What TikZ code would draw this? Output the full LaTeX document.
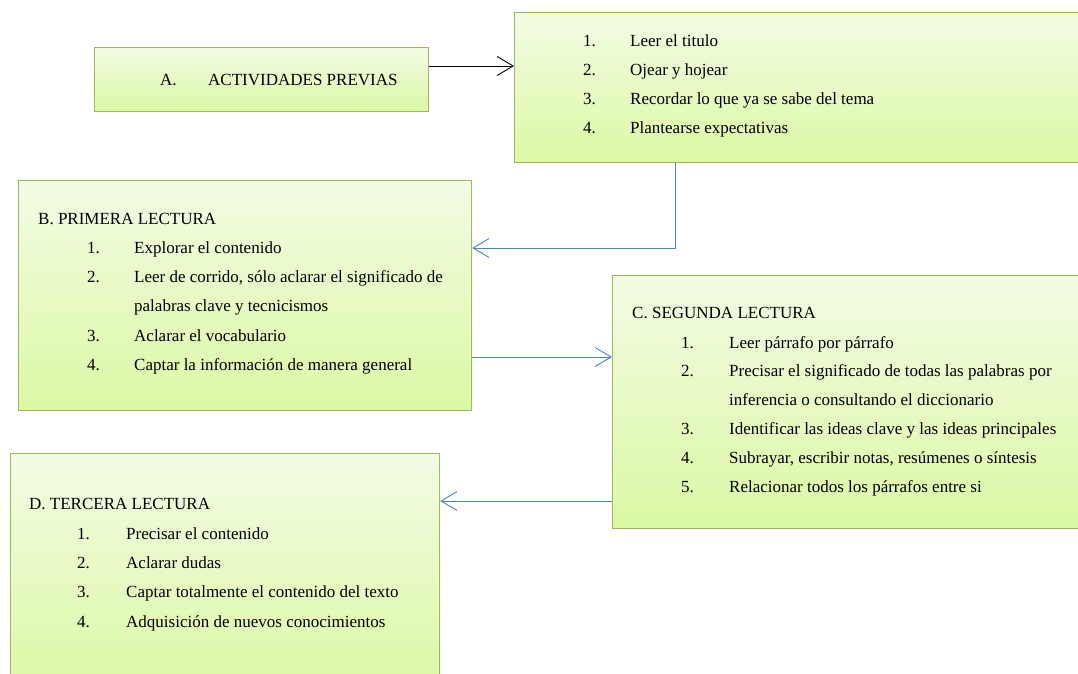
\documentclass[tikz,border=0pt]{standalone}
\usepackage{fontspec}
\setmainfont{Liberation Serif}
\usetikzlibrary{arrows.meta}
\definecolor{verdeborde}{RGB}{155,187,89}
\definecolor{verdearriba}{RGB}{243,251,228}
\definecolor{verdeabajo}{RGB}{219,249,164}
\definecolor{azul}{RGB}{79,129,189}

\begin{document}
\begin{tikzpicture}[x=1pt, y=-1pt,
	caja/.style={draw=verdeborde, line width=1.2pt, top color=verdearriba, bottom color=verdeabajo, anchor=north west, inner sep=0pt},
	txt/.style={anchor=base west, inner sep=0pt, font=\fontsize{17}{20}\selectfont},
	flecha/.style={draw=azul, line width=0.9pt, -{Straight Barb[length=16pt, width=19pt]}}]
					\useasboundingbox (0,0) rectangle (1078,673);
					\clip (0,0) rectangle (1078,673);
					% cajas
					\node[caja, minimum width=334pt, minimum height=64pt] (boxA) at (94,47) {};
					\node[caja, minimum width=580pt, minimum height=150pt] (listaA) at (514,12) {};
					\node[caja, minimum width=453pt, minimum height=230pt] (boxB) at (18,180) {};
					\node[caja, minimum width=480pt, minimum height=253pt] (boxC) at (612,275) {};
					\node[caja, minimum width=429pt, minimum height=240pt] (boxD) at (10,453) {};
					% A
					\node[txt] (tA0) at (160,85) {A.};
					\node[txt] (tA) at (208,85) {ACTIVIDADES PREVIAS};
					\node[txt] (nA1) at (583,46) {1.};
					\node[txt] (tA1) at (630,46) {Leer el titulo};
					\node[txt] (nA2) at (583,75) {2.};
					\node[txt] (tA2) at (630,75) {Ojear y hojear};
					\node[txt] (nA3) at (583,104) {3.};
					\node[txt] (tA3) at (630,104) {Recordar lo que ya se sabe del tema};
					\node[txt] (nA4) at (583,133) {4.};
					\node[txt] (tA4) at (630,133) {Plantearse expectativas};
					% B
					\node[txt] (tB) at (38,224) {B. PRIMERA LECTURA};
					\node[txt] (nB1) at (87,253) {1.};
					\node[txt] (tB1) at (134,253) {Explorar el contenido};
					\node[txt] (nB2) at (87,282) {2.};
					\node[txt] (tB2) at (134,282) {Leer de corrido, sólo aclarar el significado de};
					\node[txt] (tB2b) at (134,311) {palabras clave y tecnicismos};
					\node[txt] (nB3) at (87,341) {3.};
					\node[txt] (tB3) at (134,341) {Aclarar el vocabulario};
					\node[txt] (nB4) at (87,370) {4.};
					\node[txt] (tB4) at (134,370) {Captar la información de manera general};
					% C
					\node[txt] (tC) at (632,318) {C. SEGUNDA LECTURA};
					\node[txt] (nC1) at (681,348) {1.};
					\node[txt] (tC1) at (729,348) {Leer párrafo por párrafo};
					\node[txt] (nC2) at (681,376) {2.};
					\node[txt] (tC2) at (729,376) {Precisar el significado de todas las palabras por};
					\node[txt] (tC2b) at (729,405) {inferencia o consultando el diccionario};
					\node[txt] (nC3) at (681,434) {3.};
					\node[txt] (tC3) at (729,434) {Identificar las ideas clave y las ideas principales};
					\node[txt] (nC4) at (681,463) {4.};
					\node[txt] (tC4) at (729,463) {Subrayar, escribir notas, resúmenes o síntesis};
					\node[txt] (nC5) at (681,492) {5.};
					\node[txt] (tC5) at (729,492) {Relacionar todos los párrafos entre si};
					% D
					\node[txt] (tD) at (29,509) {D. TERCERA LECTURA};
					\node[txt] (nD1) at (77,539) {1.};
					\node[txt] (tD1) at (126,539) {Precisar el contenido};
					\node[txt] (nD2) at (77,568) {2.};
					\node[txt] (tD2) at (126,568) {Aclarar dudas};
					\node[txt] (nD3) at (77,597) {3.};
					\node[txt] (tD3) at (126,597) {Captar totalmente el contenido del texto};
					\node[txt] (nD4) at (77,627) {4.};
					\node[txt] (tD4) at (126,627) {Adquisición de nuevos conocimientos};
					% flechas
					\draw[flecha, draw=black] (boxA.east |- 0,66) -- (listaA.west |- 0,66);
					\draw[flecha] (listaA.south -| 675,0) |- (boxB.east |- 0,248);
					\draw[flecha] (boxB.east |- 0,357) -- (boxC.west |- 0,357);
					\draw[flecha] (boxC.west |- 0,501) -- (boxD.east |- 0,501);
				\end{tikzpicture}
\end{document}
